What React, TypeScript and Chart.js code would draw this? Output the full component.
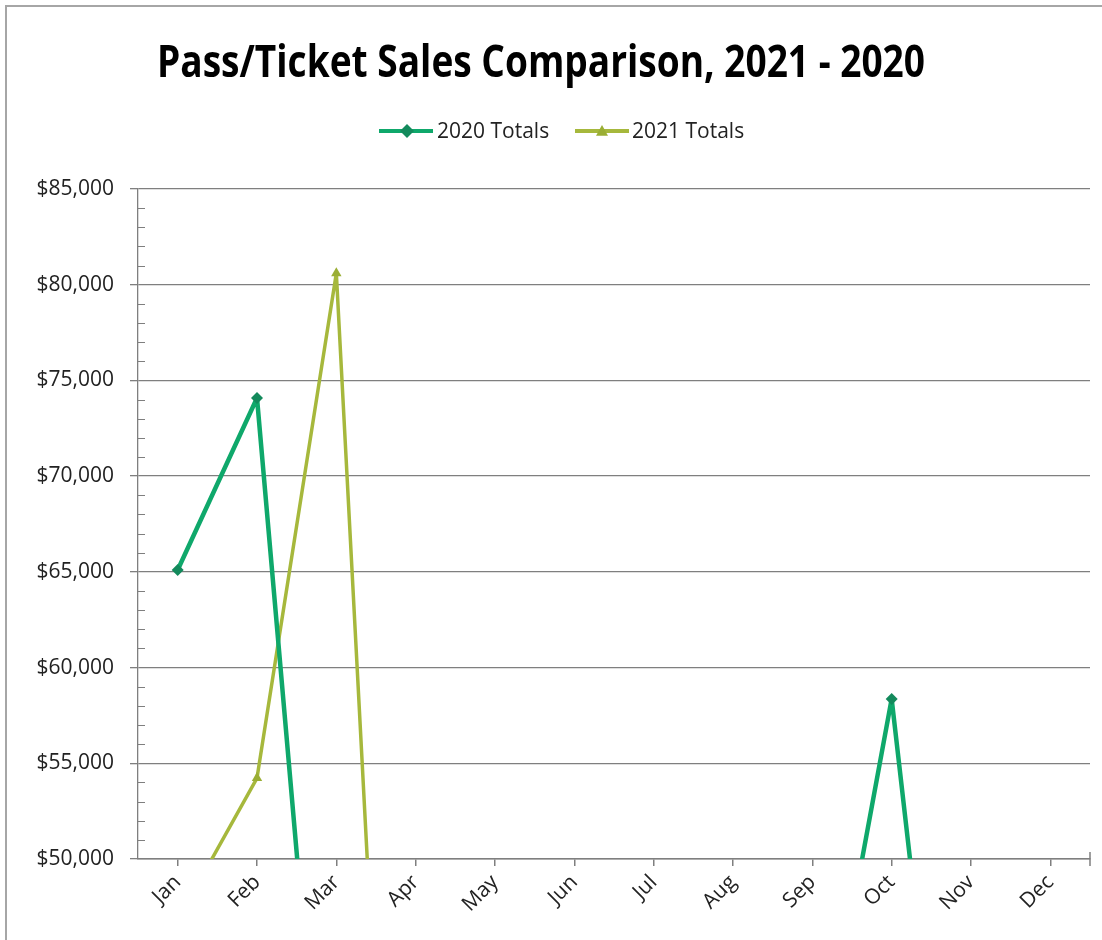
import React, { useEffect, useRef } from "react";
import { Chart, registerables } from "chart.js";

Chart.register(...registerables);

const chartTitle = "Pass/Ticket Sales Comparison, 2021 - 2020";
const months = ["Jan", "Feb", "Mar", "Apr", "May", "Jun", "Jul", "Aug", "Sep", "Oct", "Nov", "Dec"];
const seriesNames = ["2020 Totals", "2021 Totals"];
const sales2020 = [65100, 74080, 26600, 1500, 3000, 8000, 15000, 20000, 35900, 58360, 22200, 25000];
const sales2021 = [46800, 54230, 80600, 2100, null, null, null, null, null, null, null, null];
const yMin = 50000;
const yMax = 85000;
const yStep = 5000;
const yMinorStep = 1000;

const COLOR_2020 = "#0fa86b";
const MARK_2020 = "#138a5c";
const COLOR_2021 = "#a6b83c";
const MARK_2021 = "#9aae34";
const AXIS = "#7f7f7f";
const FONT = "'Open Sans', 'DejaVu Sans', sans-serif";

function drawDiamond(ctx: CanvasRenderingContext2D, x: number, y: number, r: number, color: string) {
  ctx.beginPath();
  ctx.moveTo(x, y - r);
  ctx.lineTo(x + r, y);
  ctx.lineTo(x, y + r);
  ctx.lineTo(x - r, y);
  ctx.closePath();
  ctx.fillStyle = color;
  ctx.fill();
}

function drawTriangle(ctx: CanvasRenderingContext2D, x: number, y: number, r: number, color: string) {
  ctx.beginPath();
  ctx.moveTo(x, y - r);
  ctx.lineTo(x + r, y + r * 0.8);
  ctx.lineTo(x - r, y + r * 0.8);
  ctx.closePath();
  ctx.fillStyle = color;
  ctx.fill();
}

const decorPlugin = {
  id: "decor",
  beforeDraw(chart: any) {
    const ctx = chart.ctx as CanvasRenderingContext2D;
    ctx.save();
    ctx.fillStyle = "#ffffff";
    ctx.fillRect(0, 0, chart.width, chart.height);
    ctx.strokeStyle = "#a6a6a6";
    ctx.lineWidth = 2;
    ctx.strokeRect(6, 6, chart.width + 10, chart.height + 10);
    ctx.restore();
  },
  afterDraw(chart: any) {
    const ctx = chart.ctx as CanvasRenderingContext2D;
    const area = chart.chartArea;
    const y = chart.scales.y;
    ctx.save();
    // title
    ctx.fillStyle = "#000000";
    ctx.font = `bold 44px ${FONT}`;
    ctx.textAlign = "center";
    ctx.textBaseline = "alphabetic";
    ctx.fillText(chartTitle, 541, 77, 768);
    // legend
    const ly = 131;
    const items = [
      { x0: 379, x1: 433, mx: 407, tx: 437, color: COLOR_2020, mark: MARK_2020, tri: false, name: seriesNames[0] },
      { x0: 575, x1: 629, mx: 602, tx: 632, color: COLOR_2021, mark: MARK_2021, tri: true, name: seriesNames[1] },
    ];
    for (const it of items) {
      ctx.strokeStyle = it.color;
      ctx.lineWidth = 4;
      ctx.beginPath();
      ctx.moveTo(it.x0, ly);
      ctx.lineTo(it.x1, ly);
      ctx.stroke();
      if (it.tri) drawTriangle(ctx, it.mx, ly, 6, it.mark);
      else drawDiamond(ctx, it.mx, ly, 7, it.mark);
      ctx.fillStyle = "#222222";
      ctx.font = `21px ${FONT}`;
      ctx.textAlign = "left";
      ctx.textBaseline = "middle";
      ctx.fillText(it.name, it.tx, ly + 1, 115);
    }
    // minor ticks on y axis
    ctx.strokeStyle = AXIS;
    ctx.lineWidth = 1;
    for (let v = yMin + yMinorStep; v < yMax; v += yMinorStep) {
      if (v % yStep === 0) continue;
      const py = Math.round(y.getPixelForValue(v)) + 0.5;
      ctx.beginPath();
      ctx.moveTo(area.left, py);
      ctx.lineTo(area.left + 7, py);
      ctx.stroke();
    }
    // end tick on x axis
    ctx.lineWidth = 1.5;
    ctx.beginPath();
    ctx.moveTo(area.right, area.bottom - 7);
    ctx.lineTo(area.right, area.bottom + 7);
    ctx.stroke();
    ctx.restore();
  },
};

export default function App() {
  const canvasRef = useRef<HTMLCanvasElement | null>(null);

  useEffect(() => {
    const canvas = canvasRef.current;
    if (!canvas) return;
    const chart = new Chart(canvas, {
      type: "line",
      data: {
        labels: months,
        datasets: [
          {
            label: seriesNames[0],
            data: sales2020,
            borderColor: COLOR_2020,
            backgroundColor: MARK_2020,
            borderWidth: 4.5,
            borderJoinStyle: "round",
            pointStyle: "rectRot",
            pointRadius: 6,
            pointBorderWidth: 0,
            pointBackgroundColor: MARK_2020,
            tension: 0,
            spanGaps: false,
          },
          {
            label: seriesNames[1],
            data: sales2021,
            borderColor: COLOR_2021,
            backgroundColor: MARK_2021,
            borderWidth: 3.5,
            borderJoinStyle: "round",
            pointStyle: "triangle",
            pointRadius: 6,
            pointBorderWidth: 0,
            pointBackgroundColor: MARK_2021,
            tension: 0,
            spanGaps: false,
          },
        ],
      },
      options: {
        responsive: false,
        animation: false,
        layout: { padding: { top: 189, right: 12, left: 0, bottom: 0 } },
        plugins: {
          legend: { display: false },
          title: { display: false },
          tooltip: { enabled: false },
        },
        scales: {
          x: {
            type: "category",
            offset: true,
            grid: {
              offset: false,
              drawOnChartArea: false,
              drawTicks: true,
              tickLength: 7,
              color: AXIS,
              lineWidth: 1.5,
            },
            border: { display: true, color: AXIS, width: 1.5 },
            ticks: {
              autoSkip: false,
              minRotation: 45,
              maxRotation: 45,
              padding: 4,
              color: "#222222",
              font: { family: FONT, size: 21 },
            },
            afterFit(scale: any) {
              scale.height = 81;
            },
          },
          y: {
            min: yMin,
            max: yMax,
            ticks: {
              stepSize: yStep,
              padding: 16,
              color: "#222222",
              font: { family: FONT, size: 21 },
              callback: (v: any) => "$" + Number(v).toLocaleString("en-US"),
            },
            grid: {
              color: AXIS,
              lineWidth: 1.3,
              tickLength: 8,
              drawTicks: true,
            },
            border: { display: true, color: AXIS, width: 1.3 },
            afterFit(scale: any) {
              scale.width = 138;
            },
          },
        },
      },
      plugins: [decorPlugin],
    });
    return () => chart.destroy();
  }, []);

  return (
    <div style={{ position: "absolute", left: 0, top: 0, width: 1102, height: 940 }}>
      <canvas ref={canvasRef} width={1102} height={940} style={{ display: "block" }} />
    </div>
  );
}
